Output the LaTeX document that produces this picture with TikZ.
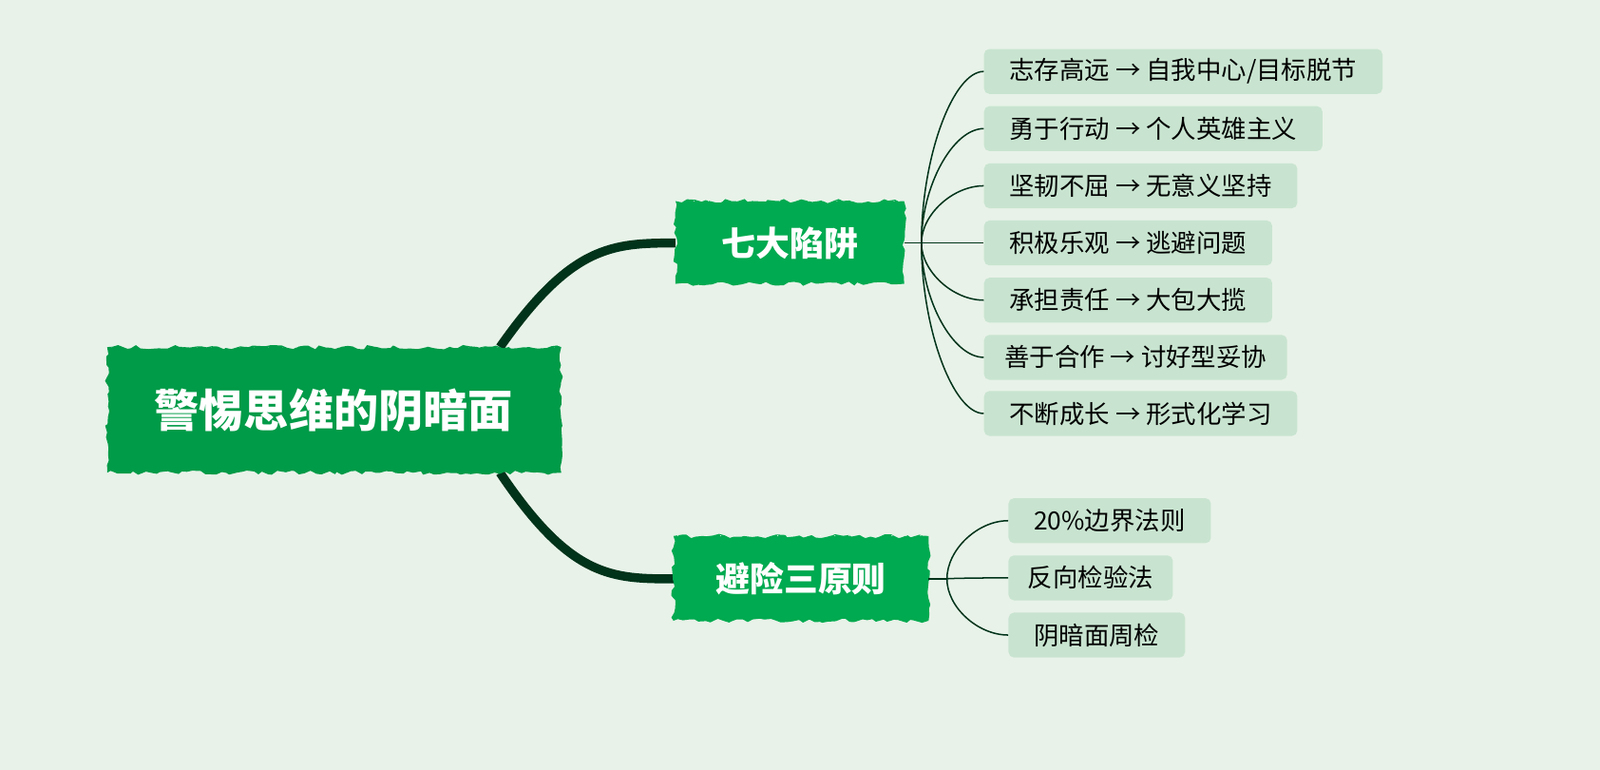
\documentclass[tikz,border=0pt]{standalone}
\usepackage{fontspec}
\setmainfont{Noto Sans CJK SC}
\usetikzlibrary{positioning,decorations.pathmorphing}
\definecolor{bgcol}{HTML}{E8F2E8}
\definecolor{rootcol}{HTML}{009B48}
\definecolor{topcol}{HTML}{00AA50}
\definecolor{leafcol}{HTML}{C8E4D0}
\definecolor{linecol}{HTML}{00331A}
\tikzset{
  rough/.style={decorate, decoration={random steps, segment length=3pt, amplitude=1.2pt}},
  leaf/.style={fill=leafcol, rounded corners=3pt, anchor=west, minimum height=0.88cm,
    inner xsep=0.5cm, font=\fontsize{14}{16}\selectfont, text=black},
  thin/.style={draw=linecol, line width=0.8pt},
  thick/.style={draw=linecol, line width=5pt}
}
\newcommand{\hatchbox}[3]{% fill, corner1, corner2
  \fill[#1, rough] #2 rectangle #3;
  \begin{scope}
    \clip #2 rectangle #3;
    \foreach \s in {0,14,...,700}
      \draw[white, line width=0.5pt, opacity=0.8] ($#2+(\s-150,0)$) -- ++(60,-130);
  \end{scope}}
\usetikzlibrary{calc}
\begin{document}
\begin{tikzpicture}[x=0.02cm, y=-0.02cm]
  \fill[bgcol] (0,0) rectangle (1568,754);
  \useasboundingbox (0,0) rectangle (1568,754);
  % connectors to main branches
  \draw[thick] (490,340) .. controls (560,240) and (600,238) .. (662,238);
  \draw[thick] (490,463) .. controls (560,567) and (600,567) .. (662,567);
  % boxes
  \hatchbox{rootcol}{(105,340)}{(550,463)}
  \hatchbox{topcol}{(662,197)}{(886,278)}
  \hatchbox{topcol}{(660,525)}{(910,608)}
  \node (root) at (327,402) [text=white, font=\bfseries\fontsize{25}{28}\selectfont] {警惕思维的阴暗面};
  \node (traps) at (774,238) [text=white, font=\bfseries\fontsize{19}{22}\selectfont] {七大陷阱};
  \node (rules) at (785,567) [text=white, font=\bfseries\fontsize{19}{22}\selectfont] {避险三原则};
  % leaves
  \node (t1) at (964,70) [leaf] {志存高远 → 自我中心/目标脱节};
  \node (t2) at (964,126) [leaf] {勇于行动 → 个人英雄主义};
  \node (t3) at (964,182) [leaf] {坚韧不屈 → 无意义坚持};
  \node (t4) at (964,238) [leaf] {积极乐观 → 逃避问题};
  \node (t5) at (964,294) [leaf] {承担责任 → 大包大揽};
  \node (t6) at (964,350) [leaf, inner xsep=0.4cm] {善于合作 → 讨好型妥协};
  \node (t7) at (964,405) [leaf] {不断成长 → 形式化学习};
  \node (r1) at (988,510) [leaf] {20\%边界法则};
  \node (r2) at (988,566) [leaf, inner xsep=0.38cm] {反向检验法};
  \node (r3) at (988,622) [leaf] {阴暗面周检};
  \coordinate (tj) at (903,238);
  \coordinate (rj) at (928,567);
  \draw[thin] (traps.east -| 886,0) -- (tj);
  \draw[thin] (rules.east -| 910,0) -- (rj);
  \foreach \n in {t1,t2,t3,t4,t5,t6,t7}
    \draw[thin] (tj) .. controls ($(tj)!0.5!(tj |- \n.west)$) and ($(\n.west)+(-30,0)$) .. (\n.west);
  \foreach \n in {r1,r2,r3}
    \draw[thin] (rj) .. controls ($(rj)!0.5!(rj |- \n.west)$) and ($(\n.west)+(-30,0)$) .. (\n.west);
\end{tikzpicture}
\end{document}
